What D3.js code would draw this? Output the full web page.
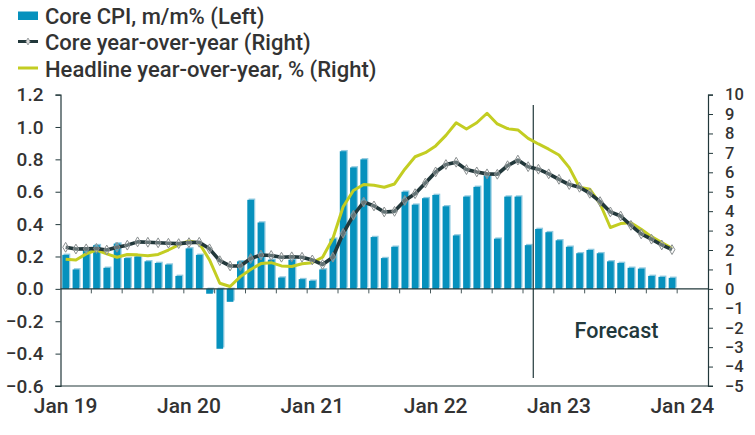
<!DOCTYPE html>
<html><head><meta charset="utf-8">
<script src="https://cdn.jsdelivr.net/npm/d3@7"></script>
<style>
html,body{margin:0;padding:0;background:#fff;}
svg text{font-family:Roboto,"Liberation Sans",sans-serif;font-weight:500;}
</style>
</head><body>
<svg id="c" width="755" height="435"></svg>
<script>
// ---- data ----
const startMonth = new Date(2019, 0, 1);
const endMonth = new Date(2024, 3, 1); // exclusive, axis runs to Mar 24
const yearLabels = ["Jan 19", "Jan 20", "Jan 21", "Jan 22", "Jan 23", "Jan 24"];
const leftTicks = [-0.6, -0.4, -0.2, 0.0, 0.2, 0.4, 0.6, 0.8, 1.0, 1.2];
const rightTicks = [-5, -4, -3, -2, -1, 0, 1, 2, 3, 4, 5, 6, 7, 8, 9, 10];
const coreMoM = [
  0.21, 0.12, 0.25, 0.27, 0.13, 0.28, 0.19, 0.20, 0.17, 0.16, 0.15, 0.08,
  0.25, 0.21, -0.03, -0.37, -0.08, 0.17, 0.55, 0.41, 0.18, 0.07, 0.18, 0.06,
  0.05, 0.12, 0.31, 0.85, 0.75, 0.80, 0.32, 0.19, 0.26, 0.60, 0.52, 0.56,
  0.58, 0.51, 0.33, 0.57, 0.63, 0.70, 0.31, 0.57, 0.57, 0.27, 0.37, 0.35,
  0.30, 0.26, 0.22, 0.24, 0.22, 0.17, 0.16, 0.13, 0.125, 0.08, 0.074, 0.068
];
const coreYoY = [
  2.14, 2.05, 2.06, 2.08, 2.00, 2.14, 2.25, 2.42, 2.40, 2.37, 2.35, 2.33,
  2.38, 2.40, 2.06, 1.45, 1.18, 1.18, 1.56, 1.74, 1.72, 1.63, 1.65, 1.63,
  1.49, 1.25, 1.63, 2.86, 3.79, 4.47, 4.27, 3.96, 3.99, 4.55, 4.90, 5.45,
  6.02, 6.40, 6.52, 6.14, 6.02, 5.92, 5.90, 6.34, 6.63, 6.29, 6.16, 5.92,
  5.64, 5.37, 5.23, 4.92, 4.49, 3.96, 3.75, 3.27, 2.83, 2.56, 2.26, 2.02
];
const headlineYoY = [
  1.53, 1.49, 1.80, 2.00, 1.80, 1.63, 1.77, 1.75, 1.70, 1.77, 2.00, 2.26,
  2.47, 2.35, 1.49, 0.29, 0.12, 0.63, 1.00, 1.30, 1.35, 1.18, 1.15, 1.29,
  1.35, 1.63, 2.59, 4.23, 5.06, 5.37, 5.33, 5.23, 5.40, 6.16, 6.80, 7.01,
  7.36, 7.90, 8.55, 8.23, 8.55, 9.04, 8.49, 8.25, 8.18, 7.75, 7.46, 7.19,
  6.89, 6.24, 5.23, 5.13, 4.38, 3.16, 3.36, 3.40, 3.07, 2.69, 2.38, 2.09
];
const forecastStart = new Date(2022, 10, 1);
const legendItems = ["Core CPI, m/m% (Left)", "Core year-over-year (Right)", "Headline year-over-year, % (Right)"];

// ---- styles ----
const C = {bar: "#0691bd", barShade: "#93cbe0", core: "#22383b", head: "#c3cd22", text: "#333333", axis: "#22383b", marker: "#8a8f90"};

const svg = d3.select("#c");
const months = d3.timeMonths(startMonth, endMonth);
const fmtKey = d3.timeFormat("%Y-%m");
const x = d3.scaleBand().domain(months.map(fmtKey)).range([60.5, 708]).paddingInner(0.35).paddingOuter(0.175);
const step = x.step();
const yL = d3.scaleLinear().domain([-0.6, 1.2]).range([386, 94.6]);
const yR = d3.scaleLinear().domain([-5, 10]).range([386, 94.6]);
const dataMonths = months.slice(0, coreMoM.length).map(fmtKey);
const cellStart = k => x(k) - step * x.paddingInner() / 2;
const center = k => x(k) + x.bandwidth() / 2;

// bars
const bars = svg.append("g");
bars.selectAll("rect.sh").data(coreMoM).join("rect").attr("class", "sh")
  .attr("x", (d, i) => x(dataMonths[i]) + 1.3)
  .attr("y", d => Math.min(yL(d), yL(0)) - 1.3)
  .attr("width", x.bandwidth())
  .attr("height", d => Math.abs(yL(d) - yL(0)))
  .attr("fill", C.barShade);
bars.selectAll("rect.b").data(coreMoM).join("rect").attr("class", "b")
  .attr("x", (d, i) => x(dataMonths[i]))
  .attr("y", d => Math.min(yL(d), yL(0)))
  .attr("width", x.bandwidth())
  .attr("height", d => Math.abs(yL(d) - yL(0)))
  .attr("fill", C.bar);

// zero axis with quarter ticks
const zeroY = yL(0);
svg.append("line").attr("x1", 60.5).attr("x2", 708).attr("y1", zeroY).attr("y2", zeroY)
  .attr("stroke", C.axis).attr("stroke-width", 1.2);
const quarterKeys = months.filter(m => m.getMonth() % 3 === 0).map(fmtKey).slice(1);
svg.append("g").selectAll("line").data(quarterKeys).join("line")
  .attr("x1", k => cellStart(k)).attr("x2", k => cellStart(k))
  .attr("y1", zeroY).attr("y2", zeroY + 4.5)
  .attr("stroke", "#4a5a5c").attr("stroke-width", 1);

// forecast line
const fk = fmtKey(forecastStart);
svg.append("line").attr("x1", cellStart(fk)).attr("x2", cellStart(fk))
  .attr("y1", 105).attr("y2", 378).attr("stroke", C.axis).attr("stroke-width", 1.2);
svg.append("text").attr("x", 616.5).attr("y", 338).attr("text-anchor", "middle")
  .attr("font-size", 21.5).attr("fill", C.core).text("Forecast");

// headline line
const lineH = d3.line().x((d, i) => center(dataMonths[i])).y(d => yR(d));
svg.append("path").datum(headlineYoY).attr("d", lineH)
  .attr("fill", "none").attr("stroke", C.head).attr("stroke-width", 3).attr("stroke-linejoin", "round");
// core line
svg.append("path").datum(coreYoY).attr("d", lineH)
  .attr("fill", "none").attr("stroke", C.core).attr("stroke-width", 3.6).attr("stroke-linejoin", "round");
const diamond = d3.symbol().type(d3.symbolDiamond).size(28);
svg.append("g").selectAll("path").data(coreYoY).join("path")
  .attr("d", diamond)
  .attr("transform", (d, i) => `translate(${center(dataMonths[i])},${yR(d)})`)
  .attr("fill", "rgba(255,255,255,0.3)").attr("stroke", C.marker).attr("stroke-width", 1);

// left axis
const gl = svg.append("g").attr("transform", "translate(60.5,0)")
  .call(d3.axisLeft(yL).tickValues(leftTicks).tickSize(5).tickPadding(12).tickFormat(d3.format(".1f")));
gl.select(".domain").attr("stroke", C.axis).attr("stroke-width", 1.2);
gl.selectAll(".tick line").attr("stroke", C.axis);
gl.selectAll(".tick text").attr("font-size", 19).attr("fill", C.text).attr("font-family", null);

// right axis
const gr = svg.append("g").attr("transform", "translate(708,0)")
  .call(d3.axisRight(yR).tickValues(rightTicks).tickSize(5).tickPadding(12));
gr.select(".domain").attr("stroke", C.axis).attr("stroke-width", 1.2);
gr.selectAll(".tick line").attr("stroke", C.axis);
gr.selectAll(".tick text").attr("font-size", 16.5).attr("fill", C.text).attr("font-family", null);

// bottom frame line
svg.append("line").attr("x1", 55).attr("x2", 713).attr("y1", 386).attr("y2", 386)
  .attr("stroke", C.axis).attr("stroke-width", 1.2);

// x labels
const janKeys = months.filter(m => m.getMonth() === 0).map(fmtKey);
svg.append("g").selectAll("text").data(janKeys).join("text")
  .attr("x", k => center(k)).attr("y", 413).attr("text-anchor", "middle")
  .attr("font-size", 21).attr("fill", C.text)
  .text((k, i) => yearLabels[i]);

// legend
const lg = svg.append("g");
lg.append("rect").attr("x", 18).attr("y", 11.5).attr("width", 20).attr("height", 8.5).attr("fill", C.bar);
lg.append("line").attr("x1", 18).attr("x2", 38).attr("y1", 41.5).attr("y2", 41.5).attr("stroke", C.core).attr("stroke-width", 3);
lg.append("path").attr("d", d3.symbol().type(d3.symbolDiamond).size(14)).attr("transform", "translate(28,41.5)")
  .attr("fill", "#ddd").attr("stroke", C.marker).attr("stroke-width", 0.8);
lg.append("line").attr("x1", 18).attr("x2", 38).attr("y1", 68).attr("y2", 68).attr("stroke", C.head).attr("stroke-width", 3);
lg.selectAll("text").data(legendItems).join("text")
  .attr("x", 45).attr("y", (d, i) => 23.5 + i * 26.5)
  .attr("font-size", 22).attr("fill", C.text).text(d => d);
</script>
</body></html>
